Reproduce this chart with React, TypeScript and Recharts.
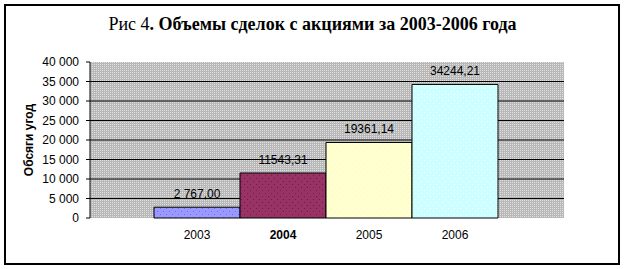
import React from 'react';
import { BarChart, Bar, XAxis, YAxis, CartesianGrid, Cell, LabelList } from 'recharts';

const years = ['2003', '2004', '2005', '2006'];
const volumes = [2767.0, 11543.31, 19361.14, 34244.21];
const valueLabels = ['2 767,00', '11543,31', '19361,14', '34244,21'];
const boldYears = ['2004'];
const yTicks = [0, 5000, 10000, 15000, 20000, 25000, 30000, 35000, 40000];
const barColors = ['#9999FF', '#993366', '#FFFFCC', '#CCFFFF'];
const dotColors = ['#7070d8', '#6a1f45', '#ffffff', '#ffffff'];

const titleRegular = 'Рис 4';
const titleBold = '. Объемы сделок с акциями за 2003-2006 года';
const yLabel = 'Обсяги угод';

const data = years.map((y, i) => ({ year: y, value: volumes[i], label: valueLabels[i] }));

const FONT = '"Liberation Sans", Arial, sans-serif';

const fmt = (v: number) => String(v).replace(/\B(?=(\d{3})+(?!\d))/g, ' ');

const XTick = (props: any) => {
  const { x, y, payload } = props;
  const bold = boldYears.includes(payload.value);
  return (
    <text x={x} y={y} dy="0.71em" textAnchor="middle" fontFamily={FONT} fontSize={12} fill="#000" fontWeight={bold ? 'bold' : 'normal'}>
      {payload.value}
    </text>
  );
};

const YLabel = (props: any) => {
  const vb = props.viewBox || {};
  const cx = vb.x - 1;
  const cy = vb.y + vb.height / 2;
  return (
    <text x={cx} y={cy} transform={`rotate(-90 ${cx} ${cy})`} textAnchor="middle" dominantBaseline="central" fontFamily={FONT} fontSize={12} fontWeight="bold" fill="#000">
      {yLabel}
    </text>
  );
};

export default function App() {
  return (
    <div style={{ position: 'absolute', left: 0, top: 0, width: 625, height: 269, background: '#fff' }}>
      <div style={{ position: 'absolute', left: 4, top: 4, width: 612, height: 257, border: '2px solid #000' }} />
      <div style={{ position: 'absolute', left: 0, top: 13, width: 625, textAlign: 'center', fontFamily: '"Liberation Serif", "Times New Roman", serif', fontSize: 18, color: '#000', lineHeight: '22px' }}>
        <span>{titleRegular}</span>
        <span style={{ fontWeight: 'bold' }}>{titleBold}</span>
      </div>
      <div style={{ position: 'absolute', left: 0, top: 0 }}>
        <BarChart width={625} height={269} data={data} margin={{ top: 62, right: 61, bottom: 21, left: 30 }} barCategoryGap={0} barGap={0}>
          <defs>
            <pattern id="bgPat" patternUnits="userSpaceOnUse" width={2} height={2}>
              <rect x={0} y={0} width={2} height={2} fill="#b8b8b8" />
              <rect x={0} y={0} width={1} height={1} fill="#e0e0e0" />
            </pattern>
            {barColors.map((c, i) => (
              <pattern key={i} id={`barPat${i}`} patternUnits="userSpaceOnUse" width={6} height={6}>
                <rect x={0} y={0} width={6} height={6} fill={c} />
                <rect x={1} y={1} width={1} height={1} fill={dotColors[i]} />
                <rect x={4} y={4} width={1} height={1} fill={dotColors[i]} />
              </pattern>
            ))}
          </defs>
          <CartesianGrid vertical={false} horizontalValues={yTicks.slice(1, -1)} stroke="#000" strokeWidth={1} fill="url(#bgPat)" fillOpacity={1} />
          <XAxis dataKey="year" axisLine={false} tickLine={false} tickSize={0} tickMargin={12} height={30} padding={{ left: 64, right: 66 }} tick={<XTick />} interval={0} />
          <YAxis
            width={60}
            domain={[0, 40000]}
            ticks={yTicks}
            tickFormatter={fmt}
            tickSize={4}
            tickMargin={7}
            axisLine={{ stroke: '#000' }}
            tickLine={{ stroke: '#000' }}
            tick={{ fill: '#000', fontSize: 12, fontFamily: FONT }}
            label={<YLabel />}
            interval={0}
          />
          <Bar dataKey="value" isAnimationActive={false} stroke="#000" strokeWidth={1}>
            {data.map((d, i) => (
              <Cell key={d.year} fill={`url(#barPat${i})`} />
            ))}
            <LabelList dataKey="label" position="top" offset={9} fill="#000" fontSize={12} fontFamily={FONT} />
          </Bar>
        </BarChart>
      </div>
    </div>
  );
}
